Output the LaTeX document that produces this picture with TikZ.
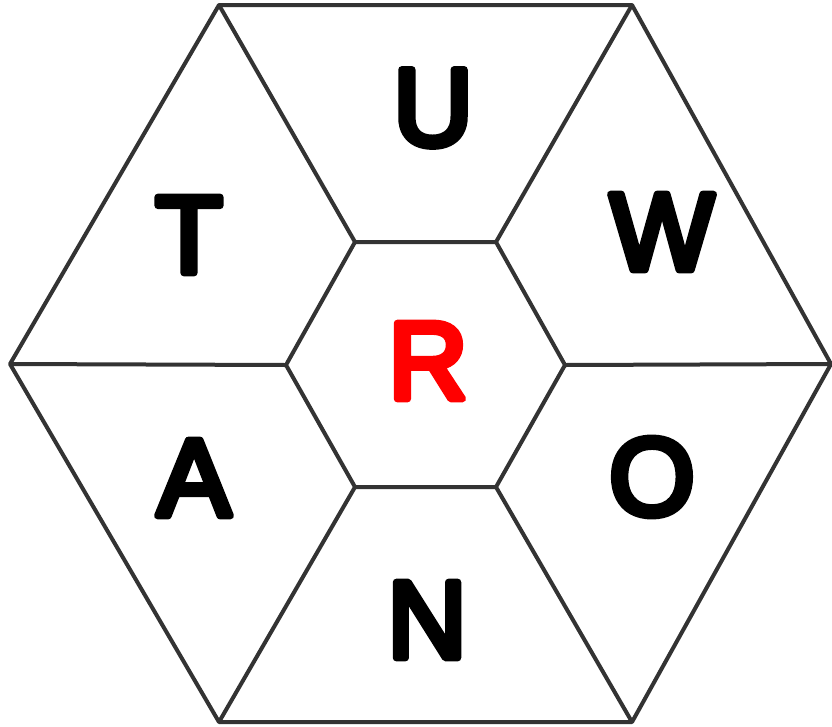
\documentclass[tikz,border=0pt]{standalone}
\usepackage{fontspec}
\setmainfont{Liberation Sans}
\usepackage{xcolor}
\definecolor{edge}{HTML}{333333}
\definecolor{hot}{HTML}{FF0000}
\usetikzlibrary{positioning}

% rounded heavy letters: fill plus round-joined outline
\newcommand{\roundglyph}[1]{\special{pdf:code 2 Tr 1 j 1 J 7 w}#1\special{pdf:code 0 Tr}}

\begin{document}
\begin{tikzpicture}[x=1pt, y=-1pt, line join=round,
    cell/.style={draw=edge, line width=4pt},
    letter/.style={font=\fontsize{110}{110}\selectfont, inner sep=0pt}]
  \useasboundingbox (0,0) rectangle (832,726);

  % Outer hexagon corners
  \coordinate (o1) at (219,5);
  \coordinate (o2) at (632,5);
  \coordinate (o3) at (831,364);
  \coordinate (o4) at (632,722);
  \coordinate (o5) at (219,722);
  \coordinate (o6) at (10,364);

  % Inner hexagon corners
  \coordinate (i1) at (355,242);
  \coordinate (i2) at (496,242);
  \coordinate (i3) at (565,365);
  \coordinate (i4) at (496,487);
  \coordinate (i5) at (355,487);
  \coordinate (i6) at (286,365);

  \draw[cell] (o1) -- (o2) -- (o3) -- (o4) -- (o5) -- (o6) -- cycle;
  \draw[cell] (i1) -- (i2) -- (i3) -- (i4) -- (i5) -- (i6) -- cycle;

  % Spokes
  \foreach \k in {1,...,6}
    \draw[cell] (i\k) -- (o\k);

  % Letters
  \node[letter] (lu) at (433,108) {\roundglyph{U}};
  \node[letter] (lt) at (189,235) {\roundglyph{T}};
  \node[letter] (lw) at (662,232) {\roundglyph{W}};
  \node[letter, text=hot] (lr) at (428,361) {\roundglyph{R}};
  \node[letter] (la) at (194,478) {\roundglyph{A}};
  \node[letter] (lo) at (652,477) {\roundglyph{O}};
  \node[letter] (ln) at (427,620) {\roundglyph{N}};

\end{tikzpicture}
\end{document}
